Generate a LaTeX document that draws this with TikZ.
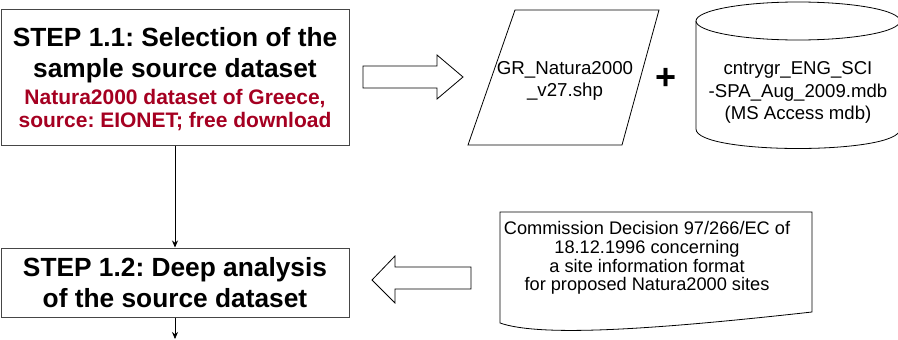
\documentclass[tikz,border=0pt]{standalone}
\usepackage{fontspec}
\setmainfont{Liberation Sans}
\usepackage{xcolor}
\usetikzlibrary{arrows.meta, positioning, calc}
\definecolor{stepred}{RGB}{165,0,33}
\definecolor{boxgray}{RGB}{70,70,70}
\frenchspacing

\begin{document}
\begin{tikzpicture}[
    x=1pt, y=-1pt,
    stepbox/.style={rectangle, draw=boxgray, line width=1pt, minimum width=348pt, inner sep=0pt, align=center},
    steptitle/.style={font=\bfseries\fontsize{26.3}{31}\selectfont, align=center, inner sep=0pt},
    srcnote/.style={font=\bfseries\fontsize{21}{23}\selectfont, text=stepred, align=center, inner sep=0pt},
    filetext/.style={font=\fontsize{18.6}{22.5}\selectfont, align=center, inner sep=0pt},
    flow/.style={-{Stealth[length=7pt,width=6pt]}, line width=0.8pt},
    bigarrow/.style={draw, line width=0.8pt, fill=white}
]
\useasboundingbox (0,0) rectangle (898,340);

% Steps
\node (step11) [stepbox, minimum height=136pt] at (175,77) {};
\node (title11) [steptitle] at (175,55.2) {STEP 1.1: Selection of the\\sample source dataset};
\node (source11) [srcnote] at (175,110.5) {Natura2000 dataset of Greece,\\source: EIONET; free download};
\node (step12) [stepbox, minimum height=69pt, font=\bfseries\fontsize{26.3}{31}\selectfont] at (175,282.5) {STEP 1.2: Deep analysis\\of the source dataset};

% Source files
\draw[line width=0.8pt] (468,145) -- (515,10) -- (659,10) -- (622,145) -- cycle;
\node (shp) [filetext, font=\fontsize{18.7}{22}\selectfont] at (565,81) {GR\_Natura2000\\\_v27.shp};
\node (plus) [font=\bfseries\fontsize{36}{36}\selectfont, inner sep=0pt] at (666,79) {+};
\draw[line width=0.8pt] (798,21) ellipse (102 and 19);
\draw[line width=0.8pt] (696,21) -- (696,129) .. controls (696,155) and (900,155) .. (900,129) -- (900,21);
\node (mdb) [filetext] at (798,92.6) {cntrygr\_ENG\_SCI\\-SPA\_Aug\_2009.mdb\\(MS Access mdb)};

% Decision document
\draw[line width=0.8pt] (500,212) -- (812,212) -- (812,312) .. controls (650,330) and (540,337) .. (500,323) -- cycle;
\node (decision) [filetext, font=\fontsize{18.2}{18.6}\selectfont] at (647,258) {Commission Decision 97/266/EC of\\18.12.1996 concerning\\a site information format\\for proposed Natura2000 sites};

% Arrows
\draw[bigarrow] (363,66) -- (437,66) -- (437,55) -- (463,77) -- (437,99) -- (437,88) -- (363,88) -- cycle;
\draw[bigarrow] (471,267) -- (395,267) -- (395,256) -- (372,280) -- (395,303) -- (395,289) -- (471,289) -- cycle;
\coordinate (next) at (175,339);
\draw[flow] (step11) -- (step12);
\draw[flow] (step12) -- (next);

\end{tikzpicture}
\end{document}
